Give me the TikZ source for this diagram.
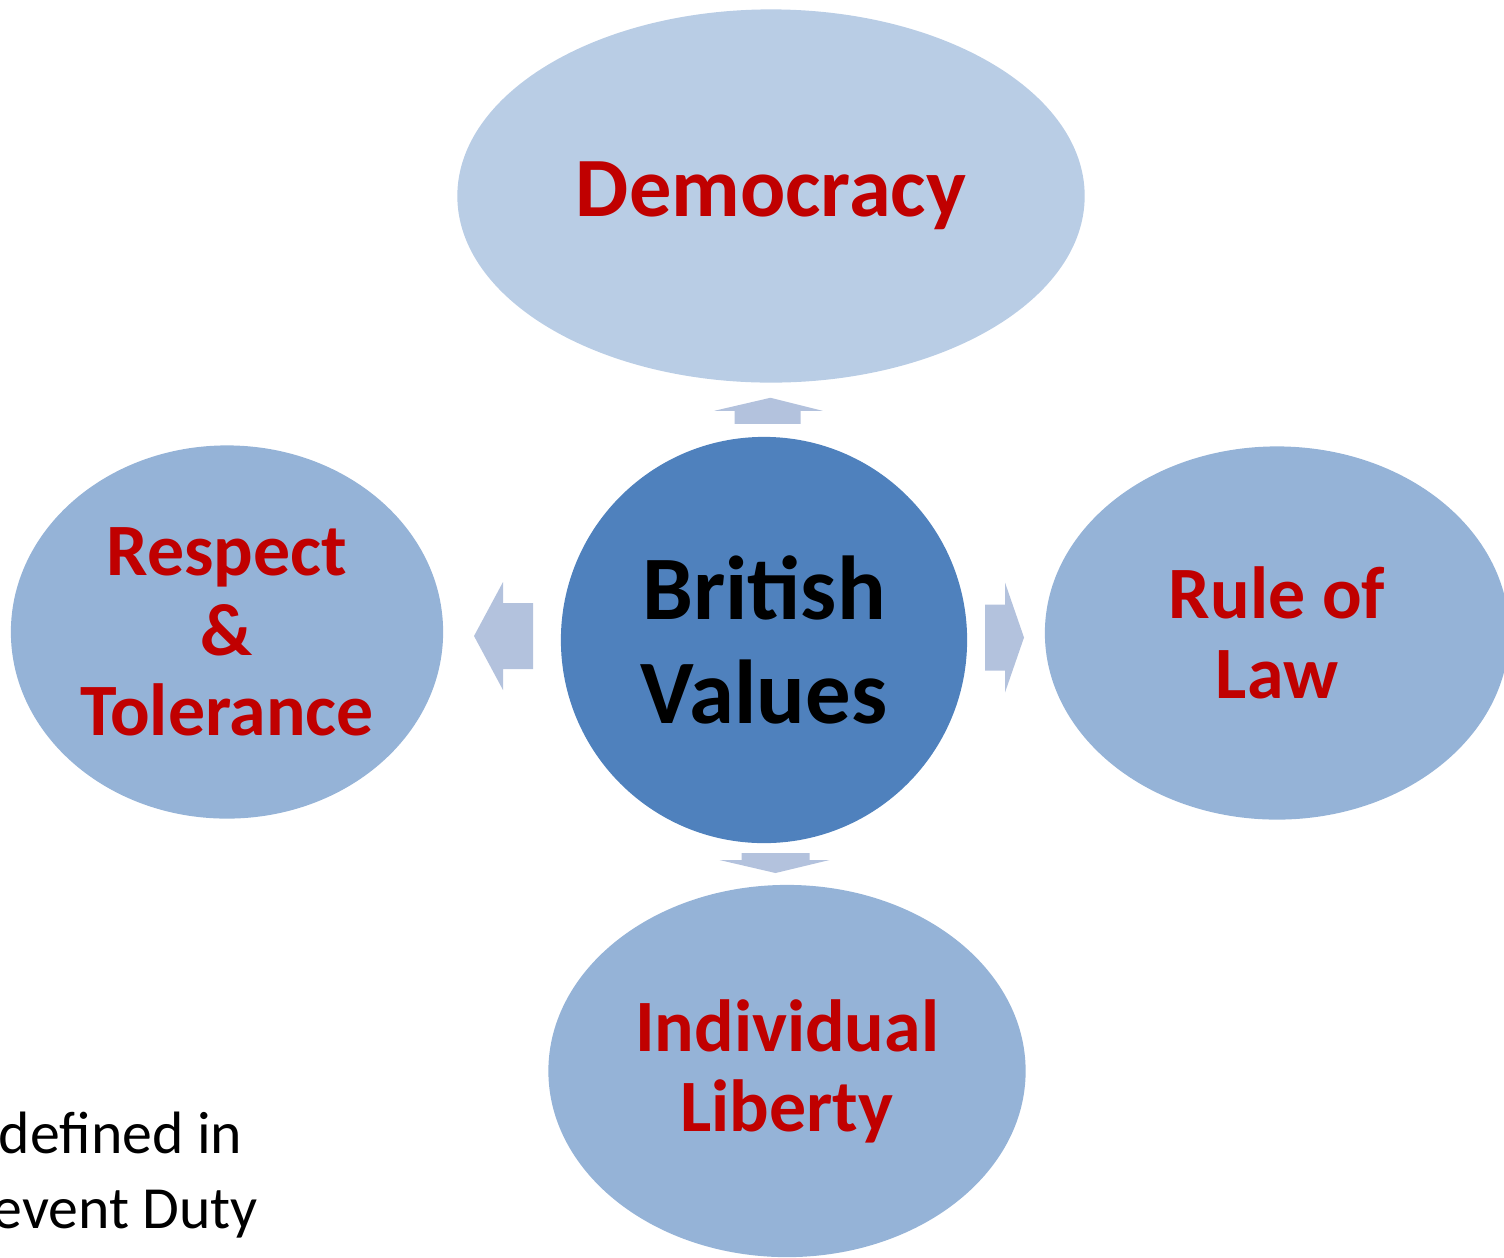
\documentclass[tikz,border=0pt]{standalone}
\usepackage{fontspec}
\setmainfont{Carlito}
\usetikzlibrary{shapes.geometric,calc}
\definecolor{demfill}{HTML}{B9CDE5}
\definecolor{valfill}{HTML}{95B3D7}
\definecolor{hubfill}{HTML}{4F81BD}
\definecolor{arrfill}{HTML}{B3C2DD}
\definecolor{valred}{HTML}{C00000}
\begin{document}
\begin{tikzpicture}
[%%%%%%%%%%%%%%%%%%%%%%%%%%%%%%
x=0.01cm, y=-0.01cm,
value/.style={ellipse,fill=valfill,text=valred,inner sep=0pt,align=center,
  font=\fontsize{21}{22.8}\selectfont\bfseries},
hub/.style={circle,fill=hubfill,text=black,inner sep=0pt,minimum size=4.06cm,align=center,
  font=\fontsize{25.8}{29.6}\selectfont\bfseries},
blockarr/.style={fill=arrfill},
note/.style={anchor=base west,inner sep=0pt,font=\fontsize{17}{21.3}\selectfont},
]%%%%%%%%%%%%%%%%%%%%%%%%%%%%%%
\useasboundingbox (0,0) rectangle (1504,1257);

\node[hub] (bv) at (764,640) {British\\Values};

\node[value,fill=demfill,minimum width=6.27cm,minimum height=3.73cm,
  font=\fontsize{24}{28}\selectfont\bfseries] (dem) at (771,196) {\raisebox{-3pt}{Democracy}};
\node[value,minimum width=4.32cm,minimum height=3.73cm] (resp) at (227,632) {Respect\\\&\\Tolerance};
\node[value,minimum width=4.64cm,minimum height=3.73cm] (law) at (1277,633) {Rule of\\Law};
\node[value,minimum width=4.77cm,minimum height=3.72cm] (lib) at (787,1071) {Individual\\Liberty};

\coordinate (up) at ($(bv.north)!0.5!(dem.south)$);
\coordinate (lt) at ($(bv.west)!0.5!(resp.east)$);
\coordinate (rt) at ($(bv.east)!0.5!(law.west)$);
\coordinate (dn) at ($(bv.south)!0.5!(lib.north)$);

\fill[blockarr,shift={(up)}] (-33,14) -- (33,14) -- (33,1) -- (55,1) -- (3,-12)
  -- (-53,1) -- (-33,1) -- cycle;
\fill[blockarr,shift={(lt)}] (31,-33) -- (31,33) -- (1,33) -- (1,54) -- (-28,0)
  -- (1,-54) -- (1,-33) -- cycle;
\fill[blockarr,shift={(rt)}] (-21,-32) -- (-21,34) -- (-1,34) -- (-1,56) -- (18,1)
  -- (-1,-54) -- (-1,-32) -- cycle;
\fill[blockarr,shift={(dn)}] (-34,-11) -- (34,-11) -- (34,-4) -- (54,-4) -- (0,9)
  -- (-56,-4) -- (-34,-4) -- cycle;

\node[note] (def) at (-2,1153) {defined in};
\node[note] (duty) at (-8,1228) {event Duty};
\end{tikzpicture}
\end{document}
